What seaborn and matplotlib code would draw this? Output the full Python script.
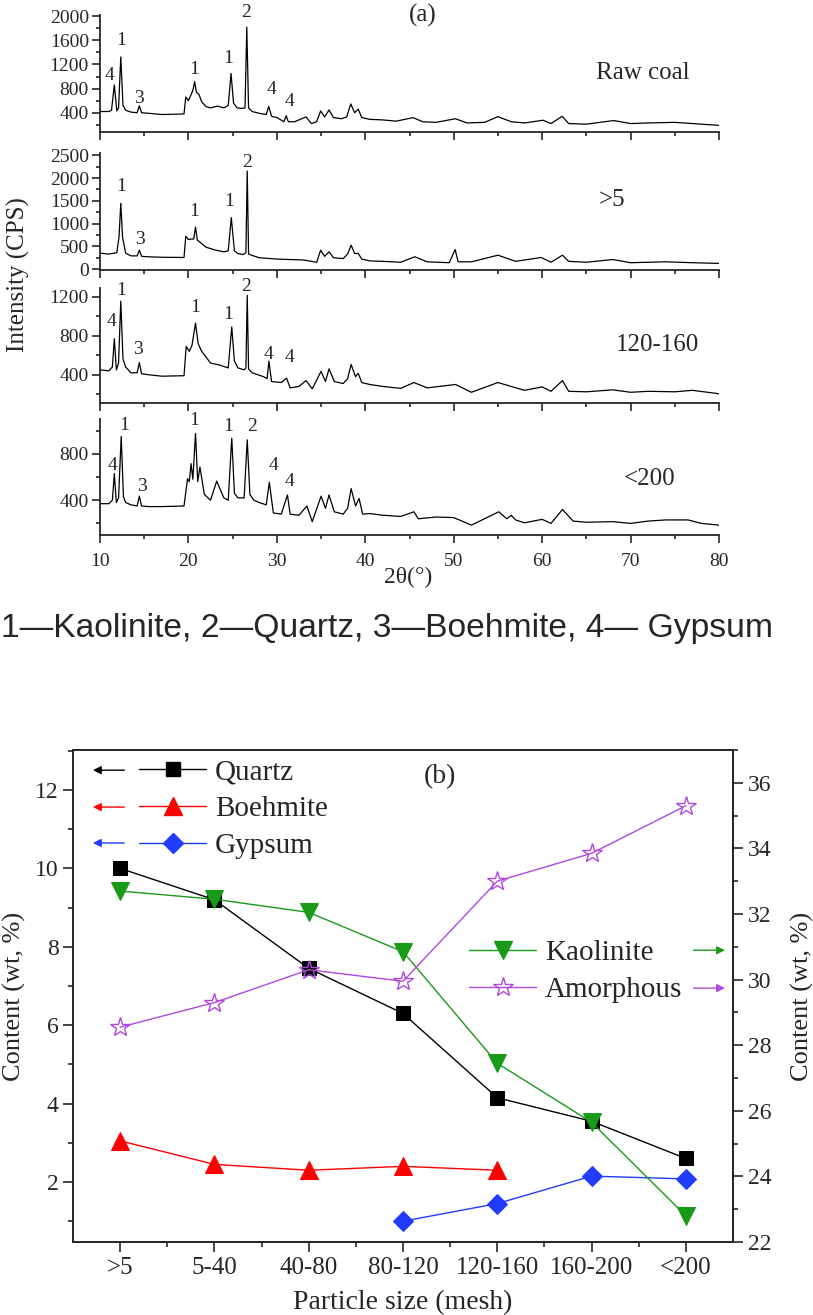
import matplotlib
matplotlib.use('Agg')
import matplotlib.pyplot as plt
from matplotlib.lines import Line2D
from matplotlib.ticker import MultipleLocator, FixedLocator
import numpy as np
import pandas as pd
import seaborn as sns

# ------------- XRD traces (2theta, intensity) -------------
raw_tt = [10, 11, 11.3, 11.62, 11.9, 12.1, 12.35, 12.6, 12.9, 13.5,
          14.2, 14.45, 14.7, 15.5, 17, 18.5, 19.5, 19.7, 20.0, 20.3,
          20.5, 20.7, 20.9, 21.2, 21.5, 22, 22.5, 23.3, 24.0, 24.5,
          24.82, 25.1, 25.5, 26.0, 26.4, 26.6, 26.8, 27.2, 28.0, 28.8,
          29.08, 29.4, 30.0, 30.8, 31.05, 31.3, 32.0, 33.3, 33.9, 34.5,
          34.95, 35.4, 35.9, 36.4, 37.3, 37.9, 38.36, 38.8, 39.2, 39.6,
          40.5, 42, 43.5, 45.4, 46.5, 48, 50.2, 51.5, 53.5, 55.0,
          56.5, 58, 60.1, 61, 62.27, 63, 65, 68.1, 70, 72,
          75, 77, 80]
raw_int = [420, 420, 440, 860, 430, 480, 1325, 520, 440, 410,
           400, 515, 400, 390, 370, 375, 380, 660, 600, 700,
           770, 915, 740, 700, 580, 500, 480, 510, 480, 520,
           1050, 560, 480, 470, 480, 1820, 480, 420, 390, 370,
           505, 340, 320, 250, 350, 250, 250, 330, 220, 250,
           430, 330, 445, 320, 300, 330, 545, 400, 460, 320,
           290, 280, 260, 318, 250, 240, 300, 230, 240, 335,
           250, 230, 275, 220, 340, 220, 210, 270, 220, 230,
           240, 220, 190]

coarse_tt = [10, 11, 11.9, 12.15, 12.35, 12.55, 12.9, 13.5, 14.2, 14.45,
             14.7, 15.5, 17, 19.5, 19.7, 20.0, 20.3, 20.6, 20.8, 21.0,
             21.5, 22, 23, 24, 24.5, 24.85, 25.2, 25.6, 26.2, 26.5,
             26.65, 26.8, 27.2, 28, 30, 33, 34.5, 34.95, 35.4, 35.9,
             36.4, 37.5, 38.0, 38.4, 38.8, 39.2, 39.6, 40.5, 42, 44,
             45.6, 47, 49.5, 50.16, 50.5, 52, 55.0, 57, 59.9, 61,
             62.3, 63, 65, 68, 70, 74, 77, 80]
coarse_int = [350, 330, 360, 700, 1445, 700, 350, 290, 290, 415,
              280, 270, 260, 255, 720, 650, 660, 660, 925, 640,
              560, 480, 420, 380, 400, 1130, 400, 340, 320, 360,
              2155, 330, 300, 250, 220, 200, 150, 415, 280, 380,
              250, 230, 330, 525, 340, 345, 220, 180, 170, 150,
              270, 160, 140, 430, 160, 160, 305, 170, 255, 150,
              305, 170, 150, 210, 140, 160, 140, 125]

mid_tt = [10, 11, 11.4, 11.62, 11.85, 12.1, 12.35, 12.6, 12.9, 13.5,
          14.2, 14.45, 14.7, 15.5, 17, 19.5, 19.75, 20.1, 20.4, 20.8,
          21.1, 21.5, 22, 22.5, 23.5, 24.5, 24.9, 25.2, 25.6, 26.3,
          26.5, 26.65, 26.8, 27.2, 28.5, 28.9, 29.1, 29.4, 30.5, 31.1,
          31.5, 32.5, 33.3, 34, 35, 35.5, 35.9, 36.5, 37.5, 38.0,
          38.4, 38.9, 39.2, 39.6, 40.5, 42, 44, 45.5, 47, 50.2,
          52, 55, 56.5, 58, 60, 61, 62.3, 63, 65, 68,
          70, 72, 75, 77, 80]
mid_int = [450, 440, 480, 770, 450, 520, 1155, 560, 480, 420,
           420, 525, 410, 400, 385, 390, 690, 640, 700, 930,
           720, 640, 580, 520, 500, 470, 890, 540, 470, 450,
           470, 1215, 460, 420, 380, 360, 540, 330, 320, 365,
           265, 280, 340, 255, 435, 330, 460, 330, 310, 360,
           505, 380, 415, 320, 300, 280, 260, 320, 265, 300,
           220, 320, 280, 240, 275, 230, 340, 230, 225, 245,
           220, 230, 225, 240, 205]

fine_tt = [10, 11, 11.4, 11.62, 11.85, 12.1, 12.4, 12.65, 12.9, 13.5,
           14.2, 14.45, 14.7, 15.5, 17, 19.5, 19.9, 20.1, 20.3, 20.5,
           20.8, 21.05, 21.3, 21.8, 22.5, 23.2, 24, 24.5, 24.9, 25.2,
           25.6, 26.3, 26.65, 26.95, 27.4, 28, 28.8, 29.15, 29.6, 30.5,
           31.2, 31.5, 32.5, 33.4, 34, 35, 35.5, 35.9, 36.5, 37.5,
           38.0, 38.4, 38.9, 39.3, 39.7, 40.5, 42, 44, 45.5, 46,
           48, 50, 52, 55.1, 56, 56.5, 57, 58, 60, 61,
           62.3, 63.5, 65, 68, 70, 72, 74, 76.5, 78, 80]
fine_int = [370, 370, 400, 630, 380, 420, 950, 430, 380, 360,
            350, 435, 350, 345, 345, 350, 585, 560, 715, 580,
            975, 560, 685, 450, 400, 565, 420, 400, 935, 460,
            420, 420, 920, 450, 400, 380, 360, 555, 290, 280,
            445, 280, 270, 350, 215, 435, 330, 445, 300, 280,
            330, 500, 350, 415, 280, 285, 270, 260, 300, 240,
            255, 250, 185, 300, 240, 270, 230, 205, 235, 200,
            320, 220, 210, 215, 200, 220, 230, 230, 200, 185]

sample_names = ['Raw coal', '>5', '120-160', '<200']

# peak labels: (text, 2theta, intensity)
raw_peaks = [('4', 11.13, 1025), ('1', 12.44, 1600), ('3', 14.45, 630), ('1', 20.67, 1110),
             ('1', 24.5, 1300), ('2', 26.47, 2065), ('4', 29.4, 780), ('4', 31.4, 586)]
coarse_peaks = [('1', 12.4, 1805), ('3', 14.5, 650), ('1', 20.6, 1257), ('1', 24.6, 1476),
                ('2', 26.6, 2350)]
mid_peaks = [('4', 11.3, 950), ('1', 12.4, 1260), ('3', 14.3, 660), ('1', 20.8, 1090),
             ('1', 24.5, 1020), ('2', 26.5, 1310), ('4', 29.1, 607), ('4', 31.4, 572)]
fine_peaks = [('4', 11.4, 700), ('1', 12.75, 1042), ('3', 14.7, 514), ('1', 20.6, 1085),
              ('1', 24.5, 1034), ('2', 27.15, 1034), ('4', 29.6, 700), ('4', 31.4, 557)]

# ------------- panel (b) mineral contents -------------
categories = ['>5', '5-40', '40-80', '80-120', '120-160', '160-200', '<200']
quartz = [10.0, 9.2, 7.45, 6.3, 4.15, 3.55, 2.6]
boehmite = [3.05, 2.45, 2.3, 2.4, 2.3, None, None]
gypsum = [None, None, None, 1.0, 1.45, 2.15, 2.08]
kaolinite = [32.7, 32.45, 32.05, 30.85, 27.45, 25.65, 22.8]
amorphous = [28.55, 29.3, 30.3, 29.95, 33.0, 33.85, 35.3]

# ------------- plotting -------------
sns.set_style('ticks')
plt.rcParams['font.family'] = ['Liberation Serif', 'DejaVu Serif']

W, H = 813, 1315
fig = plt.figure(figsize=(W / 100, H / 100), dpi=100)


def px_axes(left, top, right, bottom):
    return fig.add_axes([left / W, 1 - bottom / H, (right - left) / W, (bottom - top) / H])


panels = [
    (raw_tt, raw_int, raw_peaks, (15, 132), (80, 2020), [400, 800, 1200, 1600, 2000], 200, (71.4, 1058)),
    (coarse_tt, coarse_int, coarse_peaks, (153, 270), (-20, 2550), [0, 500, 1000, 1500, 2000, 2500], 250, (67.9, 1510)),
    (mid_tt, mid_int, mid_peaks, (288, 403), (110, 1290), [400, 800, 1200], 200, (73.0, 710)),
    (fine_tt, fine_int, fine_peaks, (419, 535), (100, 1100), [400, 800], 200, (72.2, 580)),
]

for i, (tt, inten, peaks, (top, bot), ylim, yt, ymin, lab_pos) in enumerate(panels):
    ax = px_axes(100, top, 719, bot)
    sns.lineplot(x=tt, y=inten, ax=ax, color='black', linewidth=0.9)
    ax.set_xlim(10, 80)
    ax.set_ylim(*ylim)
    ax.set_yticks(yt)
    ax.yaxis.set_minor_locator(MultipleLocator(ymin))
    ax.xaxis.set_major_locator(MultipleLocator(10))
    ax.xaxis.set_minor_locator(MultipleLocator(5))
    sns.despine(ax=ax)
    for s in ['left', 'bottom']:
        ax.spines[s].set_linewidth(1.3)
    ax.tick_params(which='major', length=6, width=1.2, labelsize=14, pad=2)
    ax.tick_params(axis='x', which='major', pad=7)
    ax.tick_params(which='minor', length=3, width=1.2)
    ax.set_xlabel('')
    ax.set_ylabel('')
    if i < 3:
        ax.tick_params(axis='x', labelbottom=False)
    for txt, px, py in peaks:
        ax.text(px, py, txt, ha='center', va='center', fontsize=14)
    ax.text(lab_pos[0], lab_pos[1], sample_names[i], ha='center', va='center', fontsize=18)

fig.text(423 / W, 1 - 15 / H, '(a)', ha='center', va='center', fontsize=18)
fig.text(18 / W, 1 - 275 / H, 'Intensity (CPS)', rotation=90, ha='center', va='center', fontsize=18)
fig.text(408 / W, 1 - 577 / H, '2θ(°)', ha='center', va='center', fontsize=17)

fig.text(1 / W, 1 - 628 / H, '1—Kaolinite, 2—Quartz, 3—Boehmite, 4— Gypsum',
         family=['Liberation Sans', 'DejaVu Sans'], fontsize=24.2, ha='left', va='center')

# panel (b)
axb = px_axes(73, 750, 733, 1242)
axr = axb.twinx()
pos = np.arange(len(categories))
df = pd.DataFrame({'pos': pos, 'Quartz': quartz, 'Boehmite': boehmite, 'Gypsum': gypsum,
                   'Kaolinite': kaolinite, 'Amorphous': amorphous})

c_q, c_b, c_g, c_k, c_a = 'black', '#ff0000', '#1f3cff', '#199a19', '#b048e0'
styles = {
    'Quartz': dict(color=c_q, marker='s', markersize=10, markerfacecolor=c_q, markeredgecolor=c_q),
    'Boehmite': dict(color=c_b, marker='^', markersize=13, markerfacecolor=c_b, markeredgecolor=c_b),
    'Gypsum': dict(color=c_g, marker='D', markersize=10, markerfacecolor=c_g, markeredgecolor=c_g),
    'Kaolinite': dict(color=c_k, marker='v', markersize=13, markerfacecolor=c_k, markeredgecolor=c_k),
    'Amorphous': dict(color=c_a, marker='*', markersize=15, markerfacecolor='none', markeredgecolor=c_a,
                      markeredgewidth=1.0),
}
for name in ['Quartz', 'Boehmite', 'Gypsum']:
    sub = df.dropna(subset=[name])
    sns.lineplot(data=sub, x='pos', y=name, ax=axb, linewidth=1, **styles[name])
for name in ['Kaolinite', 'Amorphous']:
    sub = df.dropna(subset=[name])
    sns.lineplot(data=sub, x='pos', y=name, ax=axr, linewidth=1, **styles[name])

axb.set_xlim(-0.5, 6.5)
axb.set_ylim(0.47, 13.02)
axr.set_ylim(22, 37)
axb.set_xticks(pos)
axb.set_xticklabels(categories)
axb.xaxis.set_minor_locator(FixedLocator(pos[:-1] + 0.5))
axb.yaxis.set_major_locator(MultipleLocator(2))
axb.yaxis.set_minor_locator(MultipleLocator(1))
axr.yaxis.set_major_locator(MultipleLocator(2))
axr.yaxis.set_minor_locator(MultipleLocator(1))
for a in (axb, axr):
    for s in a.spines.values():
        s.set_linewidth(1.3)
    a.tick_params(which='major', length=7, width=1.2, labelsize=17)
    a.tick_params(which='minor', length=3.5, width=1.2)
axb.tick_params(axis='x', which='both', top=False)
axb.tick_params(axis='x', which='major', labelsize=18)
axb.set_xlabel('Particle size (mesh)', fontsize=20, labelpad=8)
axb.set_ylabel('Content (wt, %)', fontsize=19, labelpad=6)
axr.set_ylabel('Content (wt, %)', fontsize=19, labelpad=14)
axb.text(0.556, 0.945, '(b)', transform=axb.transAxes, ha='center', va='center', fontsize=20)


def handle(name):
    st = styles[name]
    return Line2D([], [], linewidth=1, **st)


leg_kw = dict(loc='upper left', frameon=False, fontsize=21, handlelength=2.3, handletextpad=0.3,
              labelspacing=0.36, borderaxespad=0, borderpad=0, numpoints=1)
leg1 = axr.legend([handle(n) for n in ['Quartz', 'Boehmite', 'Gypsum']],
                  ['Quartz', 'Boehmite', 'Gypsum'], bbox_to_anchor=(0.1, 0.982), **leg_kw)
axr.add_artist(leg1)
axr.legend([handle(n) for n in ['Kaolinite', 'Amorphous']],
           ['Kaolinite', 'Amorphous'], bbox_to_anchor=(0.6, 0.614), **leg_kw)

arrow_rows = [(0.959, c_q, 'left'), (0.884, c_b, 'left'), (0.811, c_g, 'left'),
              (0.593, c_k, 'right'), (0.516, c_a, 'right')]
for yy, col, side in arrow_rows:
    if side == 'left':
        start, end = 0.082, 0.026
    else:
        start, end = 0.936, 0.992
    axr.annotate('', xy=(end, yy), xytext=(start, yy), xycoords='axes fraction',
                 arrowprops=dict(arrowstyle='-|>', color=col, lw=1, mutation_scale=12))

fig.savefig('out.png', dpi=100)
